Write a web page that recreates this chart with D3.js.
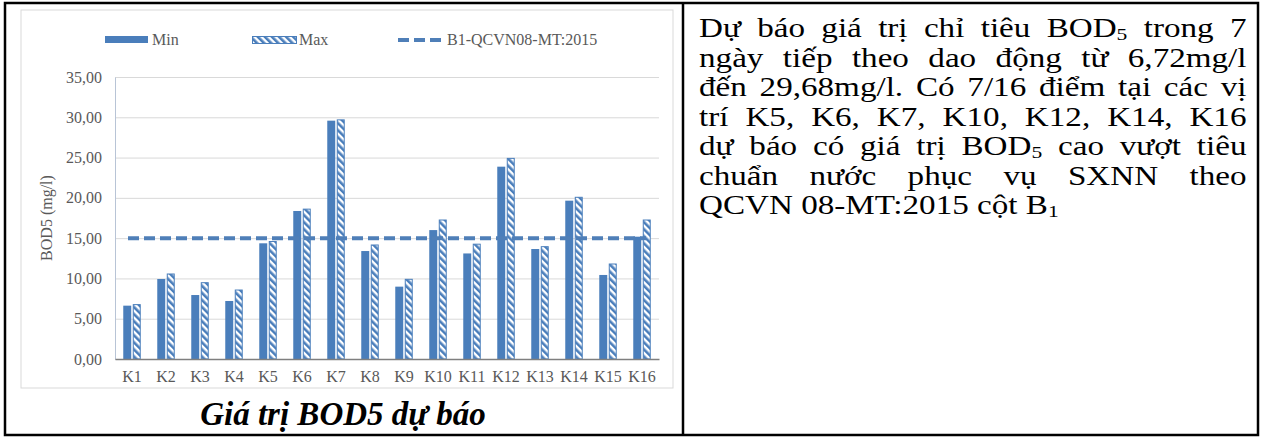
<!DOCTYPE html>
<html>
<head>
<meta charset="utf-8">
<script src="https://cdn.jsdelivr.net/npm/d3@7/dist/d3.min.js"></script>
<style>
  body { margin: 0; background: #fff; }
  #wrap { position: relative; width: 1264px; height: 439px; }
  svg { position: absolute; left: 0; top: 0; }
  #note {
    position: absolute; left: 699px; top: 14px; width: 438px;
    transform: scaleX(1.25); transform-origin: 0 0;
    font-family: "Liberation Serif", "Times New Roman", serif;
    font-size: 26.5px; line-height: 29.5px; color: #000;
  }
  #note div { text-align: justify; text-align-last: justify; white-space: nowrap; }
  #note div.last { text-align-last: left; }
  #note sub { font-size: 0.65em; vertical-align: -0.2em; line-height: 0; }
</style>
</head>
<body>
<div id="wrap">
  <svg id="chart" width="1264" height="439"></svg>
  <div id="note"></div>
</div>
<script>
const sites = ['K1','K2','K3','K4','K5','K6','K7','K8','K9','K10','K11','K12','K13','K14','K15','K16']
const minVals = [6.62, 9.93, 7.94, 7.2, 14.36, 18.37, 29.58, 13.4, 8.98, 16.0, 13.1, 23.87, 13.65, 19.65, 10.43, 15.18]
const maxVals = [6.75, 10.55, 9.47, 8.56, 14.58, 18.6, 29.68, 14.15, 9.89, 17.25, 14.25, 24.9, 13.94, 20.07, 11.79, 17.25]
const limit = 15
const yTicks = [0, 5, 10, 15, 20, 25, 30, 35]
const seriesNames = ['Min', 'Max']
const limitName = 'B1-QCVN08-MT:2015'
const noteLines = [
  'Dự báo giá trị chỉ tiêu BOD<sub>5</sub> trong 7',
  'ngày tiếp theo dao động từ 6,72mg/l',
  'đến 29,68mg/l. Có 7/16 điểm tại các vị',
  'trí K5, K6, K7, K10, K12, K14, K16',
  'dự báo có giá trị BOD<sub>5</sub> cao vượt tiêu',
  'chuẩn nước phục vụ SXNN theo',
  'QCVN 08-MT:2015 cột B<sub>1</sub>'
]

const blue = '#4a7ebb'
const font = '"Liberation Serif", "Times New Roman", serif'
const svg = d3.select('#chart')

d3.select('#note').selectAll('div')
  .data(noteLines)
  .join('div')
    .classed('last', (d, i) => i === noteLines.length - 1)
    .html(d => d)

// hatch for Max
const defs = svg.append('defs')
defs.append('pattern')
    .attr('id', 'hatch')
    .attr('patternUnits', 'userSpaceOnUse')
    .attr('width', 5).attr('height', 5)
    .attr('patternTransform', 'rotate(-45)')
  .call(p => {
    p.append('rect').attr('width', 5).attr('height', 5).attr('fill', '#fff')
    p.append('rect').attr('width', 2.6).attr('height', 5).attr('fill', blue)
  })

// table borders
svg.append('rect')
    .attr('x', 5).attr('y', 3).attr('width', 1253).attr('height', 432)
    .attr('fill', 'none').attr('stroke', '#000').attr('stroke-width', 2.5)
svg.append('line')
    .attr('x1', 683).attr('x2', 683).attr('y1', 3).attr('y2', 435)
    .attr('stroke', '#000').attr('stroke-width', 2.5)

// chart frame
svg.append('rect')
    .attr('x', 21).attr('y', 10).attr('width', 652).attr('height', 378)
    .attr('fill', '#fff').attr('stroke', '#d9d9d9')

const x0 = d3.scaleBand().domain(sites).range([115, 659])
const x1 = d3.scaleBand().domain(seriesNames).range([0, x0.bandwidth()])
    .paddingInner(0.16).paddingOuter(0.87)
const y = d3.scaleLinear().domain([0, 35]).range([359, 77])

// gridlines
svg.append('g')
    .attr('transform', 'translate(115,0)')
    .call(d3.axisLeft(y).tickValues(yTicks).tickSize(-544).tickFormat(''))
    .call(g => g.select('.domain').remove())
    .call(g => g.selectAll('line').attr('stroke', '#d9d9d9'))

// y axis
svg.append('g')
    .attr('transform', 'translate(115,0)')
    .call(d3.axisLeft(y).tickValues(yTicks).tickSize(0).tickPadding(13)
      .tickFormat(d => d3.format('.2f')(d).replace('.', ',')))
    .attr('font-family', font).attr('font-size', 16)
    .call(g => g.select('.domain').attr('stroke', '#b8c4d6'))
    .call(g => g.selectAll('text').attr('fill', '#595959'))

svg.append('text')
    .attr('transform', 'translate(52,218) rotate(-90)')
    .attr('text-anchor', 'middle')
    .attr('fill', '#595959')
    .attr('font-family', font).attr('font-size', 16)
    .text('BOD5 (mg/l)')

// bars
const rows = sites.map((s, i) => ({ site: s, Min: minVals[i], Max: maxVals[i] }))
const grp = svg.append('g').selectAll('g')
  .data(rows)
  .join('g')
    .attr('transform', d => `translate(${x0(d.site)},0)`)

grp.append('rect')
    .attr('x', x1('Min')).attr('width', x1.bandwidth())
    .attr('y', d => y(d.Min)).attr('height', d => y(0) - y(d.Min))
    .attr('fill', blue)

grp.append('rect')
    .attr('x', x1('Max') + 0.5).attr('width', x1.bandwidth() - 1)
    .attr('y', d => y(d.Max)).attr('height', d => y(0) - y(d.Max))
    .attr('fill', 'url(#hatch)')
    .attr('stroke', blue).attr('stroke-width', 1)

// x axis
svg.append('g')
    .attr('transform', 'translate(0,359)')
    .call(d3.axisBottom(x0).tickSize(0).tickPadding(12))
    .attr('font-family', font).attr('font-size', 16)
    .call(g => g.select('.domain').attr('stroke', '#7f7f7f').attr('stroke-width', 1.5))
    .call(g => g.selectAll('text').attr('fill', '#595959'))

// limit line
const cx = s => x0(s) + x0.bandwidth() / 2
svg.append('line')
    .attr('x1', cx(sites[0]) - 4).attr('x2', cx(sites[sites.length - 1]) + 4)
    .attr('y1', y(limit)).attr('y2', y(limit))
    .attr('stroke', '#4f7fb8').attr('stroke-width', 4)
    .attr('stroke-dasharray', '11,5')

// legend
const lg = svg.append('g').attr('font-family', font).attr('font-size', 16)
lg.append('rect').attr('x', 105).attr('y', 36).attr('width', 43).attr('height', 7).attr('fill', blue)
lg.append('text').attr('x', 152).attr('y', 45).attr('fill', '#595959').text(seriesNames[0])
lg.append('rect').attr('x', 252.5).attr('y', 36.5).attr('width', 44).attr('height', 7)
    .attr('fill', 'url(#hatch)').attr('stroke', blue)
lg.append('text').attr('x', 299).attr('y', 45).attr('fill', '#595959').text(seriesNames[1])
lg.append('line').attr('x1', 398).attr('x2', 443).attr('y1', 40).attr('y2', 40)
    .attr('stroke', '#4f7fb8').attr('stroke-width', 4).attr('stroke-dasharray', '11,5')
lg.append('text').attr('x', 447).attr('y', 45).attr('fill', '#595959').text(limitName)

// caption
svg.append('text')
    .attr('x', 343).attr('y', 425)
    .attr('text-anchor', 'middle')
    .attr('font-family', font).attr('font-size', 33)
    .attr('font-weight', 'bold').attr('font-style', 'italic')
    .text('Giá trị BOD5 dự báo')
</script>
</body>
</html>
